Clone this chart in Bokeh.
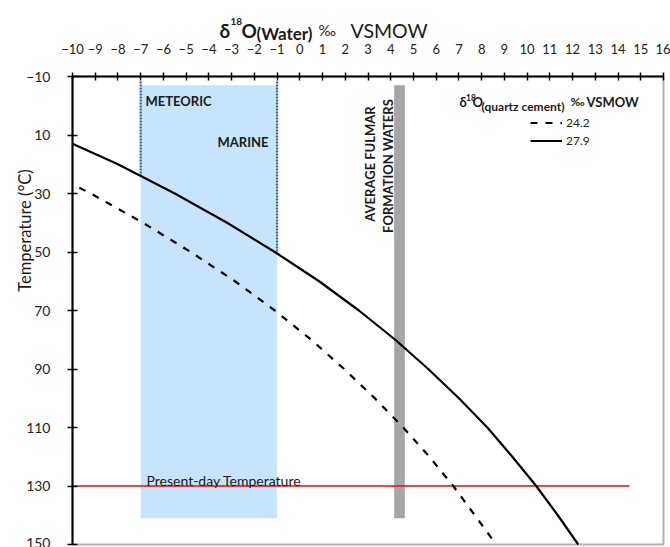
from bokeh.plotting import figure
from bokeh.models import Range1d, FixedTicker, Label, Legend, LegendItem, LinearAxis, BoxAnnotation
from bokeh.embed import file_html
from bokeh.resources import INLINE
import numpy as np
from math import pi

# ---------------- data ----------------
# delta18O quartz cement = 27.9 permil (solid)
temp_solid = [13, 20, 30, 40, 50, 60, 70, 80, 90, 100, 110, 120, 130, 140, 150]
d18o_water_solid = [-10.0, -8.0, -5.5, -3.2, -1.1, 0.85, 2.6, 4.2, 5.65, 7.0, 8.25, 9.35, 10.4, 11.35, 12.25]
# delta18O quartz cement = 24.2 permil (dashed)
temp_dashed = [28, 30, 40, 50, 60, 70, 80, 90, 100, 110, 120, 130, 140, 148]
d18o_water_dashed = [-9.7, -9.2, -6.9, -4.8, -2.85, -1.1, 0.5, 1.95, 3.3, 4.55, 5.7, 6.75, 7.7, 8.45]

legend_labels = ["24.2", "27.9"]

# meteoric / marine water field
water_field_d18o = [-7, -1]
field_temp = [-7, 141]
# average Fulmar formation waters band
fulmar_d18o = [4.15, 4.62]
# present-day temperature
present_temp = 130
present_d18o_extent = [-10, 14.5]

x_bounds = (-10, 16)
y_bounds = (-10, 150)
x_ticks = list(range(-10, 17))
y_ticks = list(range(-10, 151, 20))

# ---------------- figure ----------------
W, H = 670, 547
FL, FR, FT, FB = 72, 663, 76, 544          # pixel box of the data area
sx = (FR - FL) / (x_bounds[1] - x_bounds[0])
sy = (FB - FT) / (y_bounds[1] - y_bounds[0])
x_range = Range1d(x_bounds[0] - FL / sx, x_bounds[1] + (W - FR) / sx)
y_range = Range1d(y_bounds[1] + (H - FB) / sy, y_bounds[0] - FT / sy)

p = figure(width=W, height=H, x_range=x_range, y_range=y_range,
           x_axis_location=None, y_axis_location=None,
           output_backend="svg", toolbar_location=None,
           min_border=0, min_border_left=0, min_border_right=0,
           min_border_top=0, min_border_bottom=0)
p.xgrid.visible = False
p.ygrid.visible = False
p.outline_line_color = None
p.background_fill_color = "white"
p.border_fill_color = "white"

FONT = "Lato"

def xd(px):
    return x_range.start + px / sx

def yd(py):
    return y_range.end + py / sy

xaxis = LinearAxis(fixed_location=y_bounds[0], bounds=x_bounds, ticker=FixedTicker(ticks=x_ticks))
yaxis = LinearAxis(fixed_location=x_bounds[0], bounds=y_bounds, ticker=FixedTicker(ticks=y_ticks))
for ax in (xaxis, yaxis):
    ax.axis_line_color = "black"
    ax.axis_line_width = 2
    ax.major_tick_line_color = "black"
    ax.major_tick_line_width = 1.5
    ax.minor_tick_line_color = None
    ax.major_label_text_font = FONT
    ax.major_label_text_color = "#222222"
    ax.major_label_text_font_size = "13px"
xaxis.major_tick_in = 4
xaxis.major_tick_out = 4
xaxis.major_label_standoff = 19
yaxis.major_tick_in = 5
yaxis.major_tick_out = 5
yaxis.major_label_standoff = 17
yaxis.major_label_text_font_size = "14px"
p.add_layout(xaxis, "above")
p.add_layout(yaxis, "left")

# plot box (right and bottom edges)
p.add_layout(BoxAnnotation(left=x_bounds[0], right=x_bounds[1], top=y_bounds[0], bottom=y_bounds[1],
                           fill_alpha=0, line_color="black", line_width=2, level="overlay"))

# meteoric/marine field
p.quad(left=[water_field_d18o[0]], right=[water_field_d18o[1]], top=[field_temp[0]],
       bottom=[field_temp[1]], fill_color="#C6E5FC", line_color=None)
# dotted boundaries down to the 27.9 curve
order = np.argsort(d18o_water_solid)
ends = [float(np.interp(x, np.array(d18o_water_solid)[order], np.array(temp_solid)[order]))
        for x in water_field_d18o]
for xv, yend in zip(water_field_d18o, ends):
    p.line(x=[xv, xv], y=[-8.3, yend], line_color="#2F63A8", line_width=2.2, line_dash="2 1")
# Fulmar band
p.quad(left=[fulmar_d18o[0]], right=[fulmar_d18o[1]], top=[field_temp[0]],
       bottom=[field_temp[1]], fill_color="#A6A6A6", line_color=None)
# present-day temperature
p.line(x=present_d18o_extent, y=[present_temp, present_temp], line_color="red", line_width=1.5)

r_dash = p.line(x=d18o_water_dashed, y=temp_dashed, line_color="black", line_width=2.2,
                line_dash="7 8")
r_solid = p.line(x=d18o_water_solid, y=temp_solid, line_color="black", line_width=2.2)

legend = Legend(items=[LegendItem(label=legend_labels[0], renderers=[r_dash]),
                       LegendItem(label=legend_labels[1], renderers=[r_solid])],
                location=(530, H - 149), orientation="vertical",
                padding=0, margin=0, spacing=1, glyph_width=32, glyph_height=17,
                label_height=17, label_standoff=4, border_line_color=None,
                background_fill_alpha=0, label_text_font=FONT,
                label_text_font_size="12px", label_text_color="#222222")
p.add_layout(legend)

def lab(text, px, py, size, bold=False, align="left", baseline="alphabetic", angle=0, color="#1a1a1a"):
    p.add_layout(Label(x=xd(px), y=yd(py), text=text, text_font=FONT, text_font_size=f"{size}px",
                       text_font_style="bold" if bold else "normal", text_align=align,
                       text_baseline=baseline, angle=angle, text_color=color))

# top title: δ18O(Water) ‰ VSMOW
lab("δ", 219, 29.5, 19, True)
lab("18", 230, 20.5, 10, True)
lab("O", 241, 29.5, 19, True)
lab("(Water)", 256, 33, 17, True)
lab("‰", 318, 29.5, 15)
lab("VSMOW", 350, 29.5, 19.5)

# y axis title
lab("Temperature (°C)", 24, 230, 16.5, align="center", baseline="middle", angle=pi / 2)

# legend title: δ18O(quartz cement) ‰ VSMOW
lab("δ", 459, 101, 13, True)
lab("18", 465.5, 96.5, 8.5, True)
lab("O", 472, 101, 13, True)
lab("(quartz cement)", 481, 106, 12, True)
lab("‰", 570, 101, 12, True)
lab("VSMOW", 586, 101, 13, True)

# field labels
lab("METEORIC", 145, 100.5, 13, True, baseline="middle")
lab("MARINE", 268, 141.5, 13, True, align="right", baseline="middle")
lab("AVERAGE FULMAR", 369, 163.5, 13, True, align="center", baseline="middle", angle=pi / 2)
lab("FORMATION WATERS", 387.5, 165.5, 13, True, align="center", baseline="middle", angle=pi / 2)
lab("Present-day Temperature", 146, 480, 14)

open("out.html", "w").write(file_html(p, INLINE))
